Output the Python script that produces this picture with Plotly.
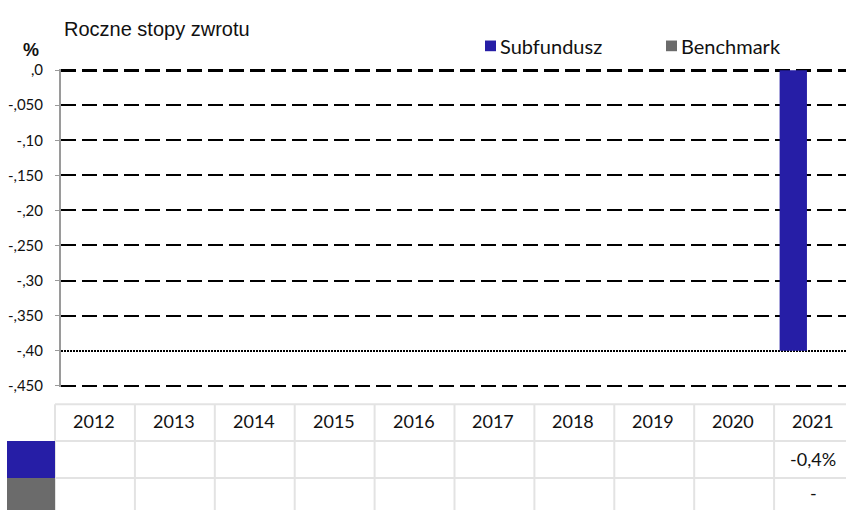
import plotly.graph_objects as go

# ---- data ----
years = ["2012", "2013", "2014", "2015", "2016", "2017", "2018", "2019", "2020", "2021"]
subfundusz = [None, None, None, None, None, None, None, None, None, -0.40]
benchmark = [None, None, None, None, None, None, None, None, None, None]
y_tickvals = [0.0, -0.05, -0.10, -0.15, -0.20, -0.25, -0.30, -0.35, -0.40, -0.45]
y_ticktext = [",0", "-,050", "-,10", "-,150", "-,20", "-,250", "-,30", "-,350", "-,40", "-,450"]
zero_ticks = [0.0]
dotted_ticks = [-0.40]
dashed_ticks = [v for v in y_tickvals if v not in zero_ticks + dotted_ticks]

series_names = ["Subfundusz", "Benchmark"]
series_colors = ["#261EA6", "#6B6B6B"]
title_text = "Roczne stopy zwrotu"
unit_text = "%"

W, H = 846, 517
def px(x):
    return x / W
def py(y):
    return 1 - y / H

y_range = [-0.452, 0.002]
ppu = (389 - 64) / 0.45
y_top_px = 64 - 0.002 * ppu
y_bot_px = 389 + 0.002 * ppu
y_domain = [py(y_bot_px), py(y_top_px)]
x_domain = [px(61), 1.0]

fig = go.Figure()
fig.add_trace(go.Bar(x=years, y=subfundusz, name=series_names[0],
                     marker=dict(color=series_colors[0], line=dict(width=0)),
                     showlegend=False, hoverinfo="x+y"))
fig.add_trace(go.Bar(x=years, y=benchmark, name=series_names[1],
                     marker=dict(color=series_colors[1], line=dict(width=0)),
                     showlegend=False, hoverinfo="x+y"))
# invisible helper traces so the overlay grid axes render
for ax in ["y2", "y3", "y4"]:
    fig.add_trace(go.Scatter(x=[years[0]], y=[None], yaxis=ax, mode="markers",
                             showlegend=False, hoverinfo="skip"))

common = dict(range=y_range, domain=y_domain, showline=False, zeroline=False,
              showticklabels=False, ticks="", anchor="x")
fig.update_layout(
    width=W, height=H, autosize=False,
    margin=dict(l=0, r=0, t=0, b=0, pad=0),
    paper_bgcolor="white", plot_bgcolor="rgba(0,0,0,0)",
    barmode="group", bargap=0.30, bargroupgap=0.0,
    showlegend=False,
    xaxis=dict(domain=x_domain, type="category", showticklabels=False, showgrid=False,
               zeroline=False, showline=False, ticks="", fixedrange=True),
    yaxis=dict(range=y_range, domain=y_domain, tickvals=y_tickvals, ticktext=y_ticktext,
               showgrid=False, zeroline=False, showline=True, linecolor="#9A9A9A", linewidth=2,
               ticks="outside", ticklen=4, tickcolor="#9A9A9A", tickwidth=1,
               tickfont=dict(family="Lato", size=15, color="#111111"),
               ticklabelstandoff=9),
    yaxis2=dict(overlaying="y", tickvals=dashed_ticks, showgrid=True, gridcolor="#000000",
                gridwidth=2, griddash="15px,6px", **common),
    yaxis3=dict(overlaying="y", tickvals=zero_ticks, showgrid=True, gridcolor="#000000",
                gridwidth=3, griddash="15px,6px", **common),
    yaxis4=dict(overlaying="y", tickvals=dotted_ticks, showgrid=True, gridcolor="#000000",
                gridwidth=2, griddash="2px,1px", **common),
)

annotations = []
shapes = []
annotations.append(dict(x=px(62), y=py(22), xref="paper", yref="paper", text=title_text,
                        showarrow=False, xanchor="left", yanchor="middle",
                        font=dict(family="Liberation Sans, Arial", size=20, color="#111111")))
annotations.append(dict(x=px(31), y=py(43), xref="paper", yref="paper", text="<b>" + unit_text + "</b>",
                        showarrow=False, xanchor="center", yanchor="middle",
                        font=dict(family="Liberation Sans, Arial", size=18, color="#111111")))
legend_x = [485, 666]
for name, color, lx in zip(series_names, series_colors, legend_x):
    shapes.append(dict(type="rect", xref="paper", yref="paper", x0=px(lx), x1=px(lx + 11),
                       y0=py(44.5), y1=py(33.5), fillcolor=color, line=dict(width=0)))
    annotations.append(dict(x=px(lx + 13), y=py(39), xref="paper", yref="paper", text=name,
                            showarrow=False, xanchor="left", yanchor="middle",
                            font=dict(family="Lato", size=20, color="#111111")))

grid_color = "#E3E3E3"
col_x0 = 55
col_w = 79.9
row_y = [408, 446, 484, 517]
for i in range(len(years) + 1):
    x = col_x0 + col_w * i
    if x > W + 2:
        break
    shapes.append(dict(type="line", xref="paper", yref="paper", x0=px(x), x1=px(x),
                       y0=py(row_y[0]), y1=py(row_y[-1]), line=dict(color=grid_color, width=2)))
for yv in row_y[:3]:
    shapes.append(dict(type="line", xref="paper", yref="paper", x0=px(col_x0), x1=1.0,
                       y0=py(yv), y1=py(yv), line=dict(color=grid_color, width=2)))
for r, color in enumerate(series_colors):
    shapes.append(dict(type="rect", xref="paper", yref="paper", x0=px(7), x1=px(col_x0),
                       y0=py(row_y[r + 2]), y1=py(row_y[r + 1]), fillcolor=color, line=dict(width=0)))

def fmt(v):
    return ("%.1f%%" % v).replace(".", ",")

sub_text = [fmt(v) if v is not None else "" for v in subfundusz]
bench_text = [(fmt(b) if b is not None else "-") if s is not None else "" for s, b in zip(subfundusz, benchmark)]

for i, yr in enumerate(years):
    cx = col_x0 + col_w * (i + 0.5) - 1
    for r, txt in enumerate([yr, sub_text[i], bench_text[i]]):
        if not txt:
            continue
        cy = (row_y[r] + row_y[r + 1]) / 2 + (-2 if r == 0 else -1)
        annotations.append(dict(x=px(cx), y=py(cy), xref="paper", yref="paper", text=txt,
                                showarrow=False, xanchor="center", yanchor="middle",
                                font=dict(family="Lato", size=18, color="#111111")))

fig.update_layout(annotations=annotations, shapes=shapes)
post = (
    "document.documentElement.style.cssText='margin:0;padding:0;overflow:hidden;';"
    "document.body.style.cssText='margin:0;padding:0;overflow:hidden;';"
    "var gd=document.getElementById('{plot_id}');"
    "gd.style.position='fixed';gd.style.left='0px';gd.style.top='0px';"
)
fig.write_html("out.html", config={"displayModeBar": False, "responsive": False},
               post_script=post)
